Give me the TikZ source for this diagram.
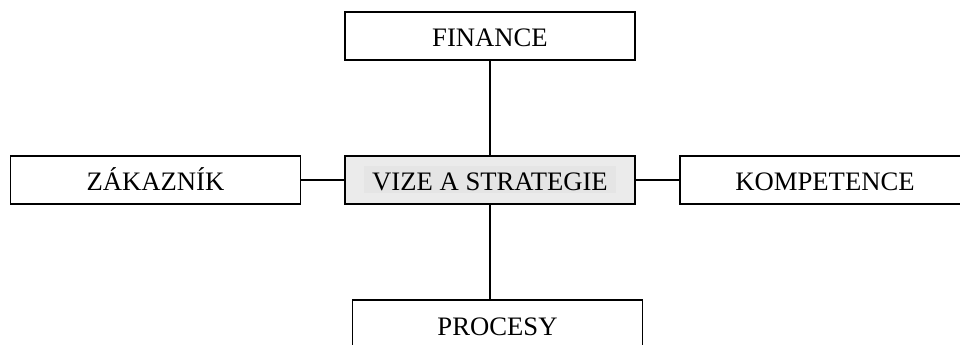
\documentclass[tikz,border=0pt]{standalone}
\usepackage{fontspec}
\setmainfont{Liberation Serif}
\definecolor{vizefill}{HTML}{EBEBEB}
\definecolor{vizehl}{HTML}{E5E5E5}
\tikzset{
  area/.style={draw,line width=1.1pt,minimum width=217.5pt,minimum height=36pt,
    inner sep=0pt,text height=16.5pt,text depth=0pt,font=\fontsize{20}{24}\selectfont},
  link/.style={line width=1.1pt}
}
\begin{document}
\begin{tikzpicture}[x=0.75pt,y=-0.75pt]
      \useasboundingbox (0,0) rectangle (960,345);
      \clip (0,0) rectangle (960,345);
      \node[area,fill=vizefill] (vize) at (490,180)
        {\setlength\fboxsep{0pt}\colorbox{vizehl}{\hspace{6pt}\rule[-1.5pt]{0pt}{20.25pt}VIZE A STRATEGIE\hspace{6pt}}};
      \node[area] (fin) at (490,36) {FINANCE};
      \node[area] (zak) at (155.5,180) {ZÁKAZNÍK};
      \node[area] (komp) at (825,180) {KOMPETENCE};
      \node[area] (proc) at (497.5,324) {PROCESY};
      % spokes from the centre box
      \draw[link] (fin) -- (vize);
      \draw[link] (zak) -- (vize);
      \draw[link] (vize) -- (komp);
      \draw[link] (vize) -- (vize |- proc.north);
    \end{tikzpicture}
\end{document}
